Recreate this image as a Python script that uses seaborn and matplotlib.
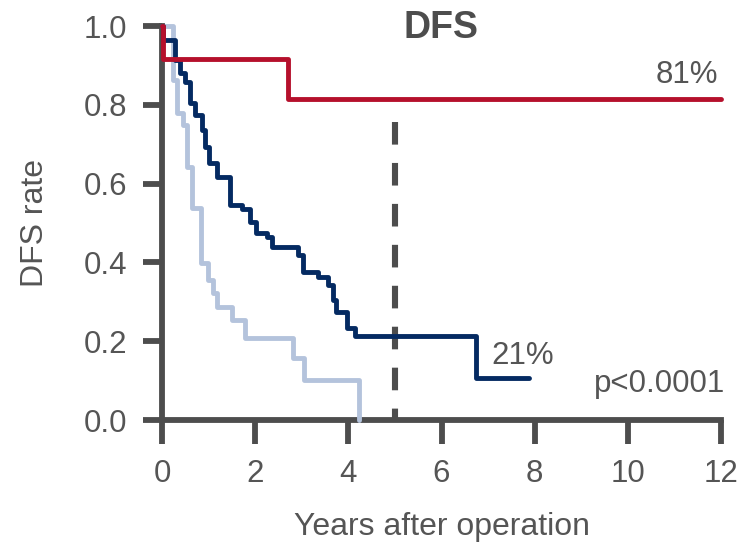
import matplotlib
matplotlib.use("Agg")
import matplotlib.pyplot as plt
import seaborn as sns
import pandas as pd

# Kaplan-Meier style DFS curves (years after operation, DFS rate)
red_t = [0.0, 0.03, 2.70, 12.0]
red_s = [1.0, 0.917, 0.815, 0.815]

navy_t = [0.0, 0.02, 0.28, 0.39, 0.49, 0.60, 0.71, 0.86, 0.92, 1.01, 1.18,
          1.46, 1.72, 1.89, 2.02, 2.25, 2.36, 2.92, 3.03, 3.35, 3.56, 3.67,
          3.73, 3.97, 4.14, 6.74, 7.88]
navy_s = [1.0, 0.964, 0.914, 0.881, 0.858, 0.805, 0.774, 0.736, 0.693, 0.652,
          0.617, 0.546, 0.536, 0.503, 0.475, 0.464, 0.439, 0.419, 0.376, 0.363,
          0.343, 0.305, 0.274, 0.234, 0.213, 0.107, 0.107]

light_t = [0.0, 0.24, 0.32, 0.45, 0.54, 0.64, 0.84, 0.99, 1.09, 1.18, 1.50,
           1.78, 2.81, 3.05, 4.23]
light_s = [1.0, 0.863, 0.78, 0.749, 0.642, 0.538, 0.398, 0.355, 0.322, 0.287,
           0.254, 0.208, 0.157, 0.102, 0.0]

x_ticks = [0, 2, 4, 6, 8, 10, 12]
y_ticks = [0.0, 0.2, 0.4, 0.6, 0.8, 1.0]
landmark_year = 5
landmark_top = 0.756

label_red = "81%"
label_navy = "21%"
p_text = "p<0.0001"

GRAY = "#4d4d4d"
TEXT = "#555555"
RED = "#b5102c"
NAVY = "#042a62"
LIGHT = "#b4c3dc"

sns.set_theme(style="white")
plt.rcParams["font.family"] = ["Liberation Sans", "DejaVu Sans"]

fig = plt.figure(figsize=(7.5, 5.46), dpi=100)
ax = fig.add_axes([162 / 750, 126 / 546, 559 / 750, 394 / 546])

frames = []
for name, t, s in [("light", light_t, light_s), ("navy", navy_t, navy_s),
                   ("red", red_t, red_s)]:
    frames.append(pd.DataFrame({"t": t, "s": s, "group": name}))
df = pd.concat(frames, ignore_index=True)

palette = {"light": LIGHT, "navy": NAVY, "red": RED}
for name in ["light", "navy", "red"]:
    sub = df[df["group"] == name]
    sns.lineplot(data=sub, x="t", y="s", color=palette[name], ax=ax,
                 estimator=None, sort=False, drawstyle="steps-post",
                 linewidth=3.5, clip_on=False, legend=False)

# 5-year landmark
ax.plot([landmark_year, landmark_year], [landmark_top, 0.0], color=GRAY,
        linewidth=4.4, dashes=(3.7, 3.0), solid_capstyle="butt",
        dash_capstyle="butt", zorder=1)

ax.set_xlim(0, 12)
ax.set_ylim(0, 1.0)
ax.set_xticks(x_ticks)
ax.set_yticks(y_ticks)
ax.set_xticklabels([str(v) for v in x_ticks])
ax.set_yticklabels([f"{v:.1f}" for v in y_ticks])

for side in ["top", "right"]:
    ax.spines[side].set_visible(False)
for side in ["left", "bottom"]:
    ax.spines[side].set_color(GRAY)
    ax.spines[side].set_linewidth(4.2)
    ax.spines[side].set_zorder(0.5)

ax.tick_params(axis="x", direction="out", length=17, width=4.2, color=GRAY,
               labelsize=22.5, labelcolor=TEXT, pad=11, bottom=True)
ax.tick_params(axis="y", direction="out", length=14, width=4.2, color=GRAY,
               labelsize=22.5, labelcolor=TEXT, pad=11, left=True)

ax.set_xlabel("Years after operation", fontsize=23, color=TEXT, labelpad=17)
ax.set_ylabel("DFS rate", fontsize=23, color=TEXT, labelpad=24)

ax.text(0.5, 0.9695, "DFS", transform=ax.transAxes, ha="center",
        va="baseline", fontsize=27, fontweight="bold", color=GRAY)
ax.text(11.93, 0.855, label_red, ha="right", va="baseline", fontsize=22.5,
        color=TEXT)
ax.text(7.08, 0.142, label_navy, ha="left", va="baseline", fontsize=22.5,
        color=TEXT)
ax.text(12.08, 0.071, p_text, ha="right", va="baseline", fontsize=22.5,
        color=TEXT)

ax.set_facecolor("white")
fig.patch.set_facecolor("white")
fig.savefig("out.png", dpi=100, facecolor="white")
